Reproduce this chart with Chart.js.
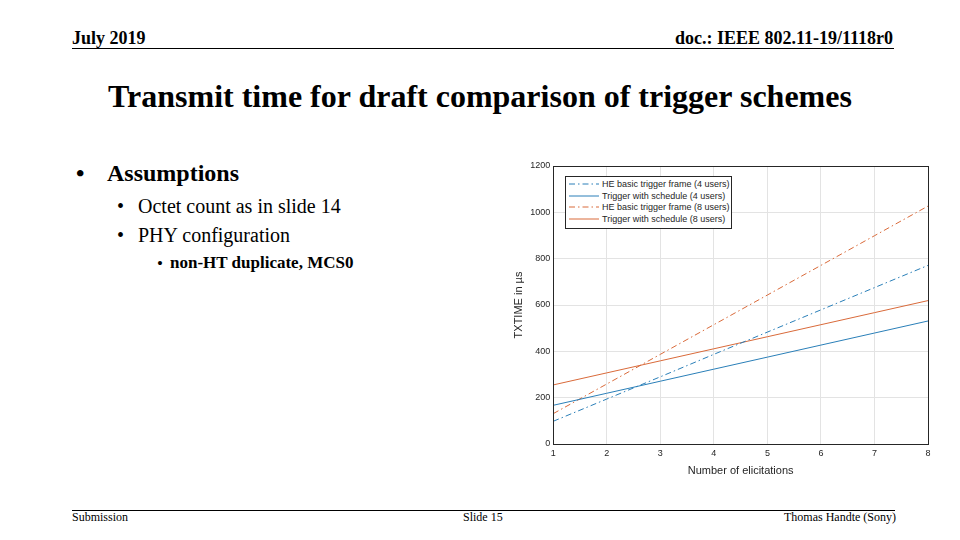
<!DOCTYPE html>
<html>
<head>
<meta charset="utf-8">
<script src="https://cdn.jsdelivr.net/npm/chart.js@4/dist/chart.umd.min.js"></script>
<style>
    html, body { margin: 0; padding: 0; background: #fff; }
    #slide { position: relative; width: 960px; height: 540px; overflow: hidden; font-family: "Liberation Serif", "Times New Roman", serif; color: #000; }
    .abs { position: absolute; white-space: nowrap; }
    .rule { position: absolute; height: 1px; background: #000; }
    #chartBox { position: absolute; left: 500px; top: 150px; width: 440px; height: 330px; }
    #legend { position: absolute; left: 565px; top: 176px; width: 165px; padding: 1px 0 3px 0; background: #fff; border: 1px solid #262626; font-family: "Liberation Sans", Arial, sans-serif; font-size: 9px; color: #262626; }
    #legend .row { display: flex; align-items: center; height: 11.7px; }
    #legend svg { margin: 0 3px 0 3px; }
</style>
</head>
<body>
<div id="slide">
    <div class="abs" style="left:72px; top:28px; font-size:18px; font-weight:bold;">July 2019</div>
    <div class="abs" style="right:67px; top:28px; font-size:18px; font-weight:bold;">doc.: IEEE 802.11-19/1118r0</div>
    <div class="rule" style="left:72px; top:48px; width:822px;"></div>

    <div class="abs" style="left:0; width:960px; text-align:center; top:78px; font-size:32px; font-weight:bold;">Transmit time for draft comparison of trigger schemes</div>

    <div class="abs" style="left:76px; top:160px; font-size:24px; font-weight:bold;">•</div>
    <div class="abs" style="left:107px; top:160px; font-size:24px; font-weight:bold;">Assumptions</div>
    <div class="abs" style="left:117px; top:195px; font-size:20px;">•</div>
    <div class="abs" style="left:138px; top:195px; font-size:20px;">Octet count as in slide 14</div>
    <div class="abs" style="left:117px; top:224px; font-size:20px;">•</div>
    <div class="abs" style="left:138px; top:224px; font-size:20px;">PHY configuration</div>
    <div class="abs" style="left:157px; top:254px; font-size:17px;">•</div>
    <div class="abs" style="left:170px; top:253px; font-size:17px; font-weight:bold;">non-HT duplicate, MCS0</div>

    <div class="rule" style="left:72px; top:510px; width:823px;"></div>
    <div class="abs" style="left:72px; top:510px; font-size:12px;">Submission</div>
    <div class="abs" style="left:463px; top:510px; font-size:12px;">Slide 15</div>
    <div class="abs" style="right:64px; top:510px; font-size:12px;">Thomas Handte (Sony)</div>

    <div id="chartBox"><canvas id="txtimeChart"></canvas></div>
    <div id="legend"></div>
</div>

<script>
const elicitations = [1, 2, 3, 4, 5, 6, 7, 8]
const seriesLabels = [
    "HE basic trigger frame (4 users)",
    "Trigger with schedule (4 users)",
    "HE basic trigger frame (8 users)",
    "Trigger with schedule (8 users)"
]
const heBasic4 = [98, 194, 290, 387, 483, 579, 675, 771]
const schedule4 = [167, 219, 271, 323, 375, 427, 479, 531]
const heBasic8 = [131, 259, 387, 515, 643, 771, 899, 1027]
const schedule8 = [255, 307, 359, 411, 463, 515, 567, 619]
const yTicks = [0, 200, 400, 600, 800, 1000, 1200]

const blue = "#2a7fb8"
const orange = "#d96a3a"
const dashDot = [6, 3, 1.5, 3]

function toPoints(values) {
    return elicitations.map((x, i) => ({ x: x, y: values[i] }))
}

function makeSet(label, values, color, dash) {
    return {
        label: label,
        data: toPoints(values),
        borderColor: color,
        backgroundColor: color,
        borderWidth: 1,
        borderDash: dash,
        pointRadius: 0,
        tension: 0,
        fill: false
    }
}

// box round the plot area, like matlab
const frameBox = {
    id: "frameBox",
    afterDraw(chart) {
        const { ctx, chartArea } = chart
        ctx.save()
        ctx.strokeStyle = "#262626"
        ctx.lineWidth = 1
        ctx.setLineDash([])
        ctx.strokeRect(Math.round(chartArea.left) + 0.5, Math.round(chartArea.top) + 0.5,
            Math.round(chartArea.right - chartArea.left), Math.round(chartArea.bottom - chartArea.top))
        ctx.restore()
    }
}

const axisFont = "Liberation Sans, Arial, sans-serif"

const chart = new Chart(document.getElementById("txtimeChart"), {
    type: "line",
    data: {
        datasets: [
            makeSet(seriesLabels[0], heBasic4, blue, dashDot),
            makeSet(seriesLabels[1], schedule4, blue, []),
            makeSet(seriesLabels[2], heBasic8, orange, dashDot),
            makeSet(seriesLabels[3], schedule8, orange, [])
        ]
    },
    options: {
        responsive: true,
        maintainAspectRatio: false,
        animation: false,
        layout: { padding: { top: 16, right: 12, bottom: 2, left: 12 } },
        plugins: {
            tooltip: { enabled: false },
            legend: { display: false }
        },
        scales: {
            x: {
                type: "linear",
                min: elicitations[0],
                max: elicitations[elicitations.length - 1],
                ticks: { stepSize: 1, color: "#262626", padding: 4, font: { family: axisFont, size: 9 } },
                grid: { color: "#e3e3e3", tickLength: 0 },
                border: { color: "#262626" },
                title: { display: true, text: "Number of elicitations", color: "#262626", padding: { top: 2, bottom: 0 }, font: { family: axisFont, size: 11 } }
            },
            y: {
                min: yTicks[0],
                max: yTicks[yTicks.length - 1],
                afterBuildTicks(axis) {
                    axis.ticks = yTicks.map(v => ({ value: v }))
                },
                ticks: { color: "#262626", padding: 3, font: { family: axisFont, size: 9 }, callback: v => String(v) },
                grid: { color: "#e3e3e3", tickLength: 0 },
                border: { color: "#262626" },
                title: { display: true, text: "TXTIME in µs", color: "#262626", padding: { top: 0, bottom: 2 }, font: { family: axisFont, size: 11 } }
            }
        }
    },
    plugins: [frameBox]
})

// legend inside the axes, built from the datasets
const legend = document.getElementById("legend")
chart.data.datasets.forEach(ds => {
    const dash = ds.borderDash.length ? ` stroke-dasharray="${ds.borderDash.join(" ")}"` : ""
    legend.insertAdjacentHTML("beforeend",
        `<div class="row"><svg width="30" height="4"><line x1="0" y1="2" x2="30" y2="2" stroke="${ds.borderColor}" stroke-width="1"${dash}/></svg><span>${ds.label}</span></div>`)
})
</script>
</body>
</html>
